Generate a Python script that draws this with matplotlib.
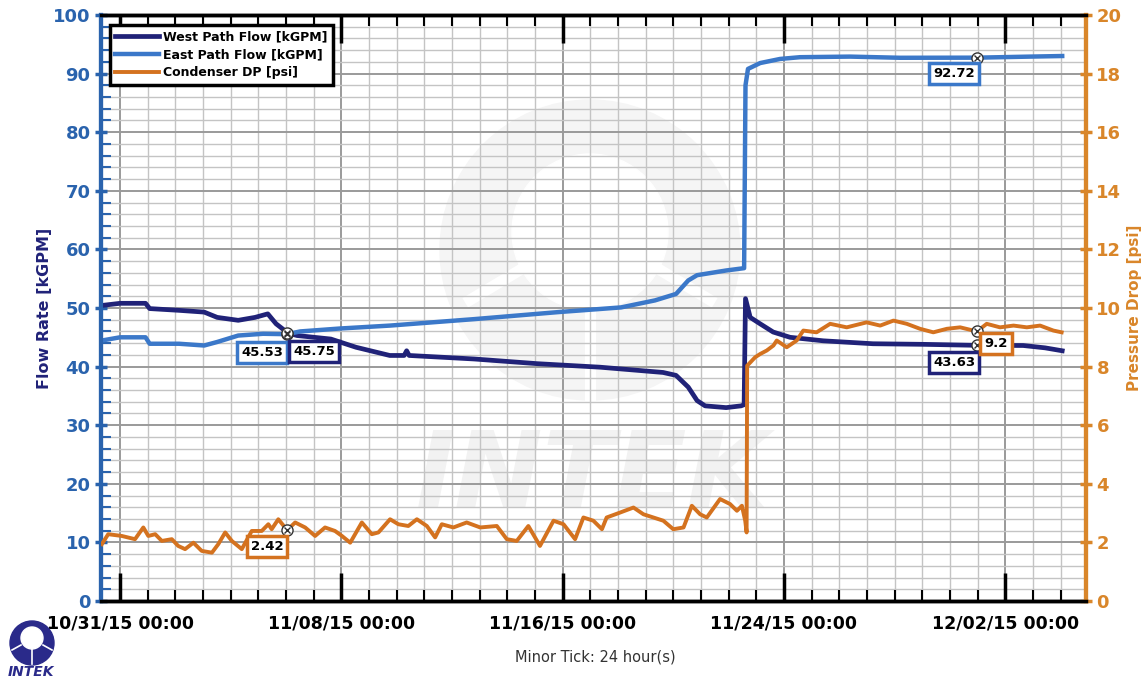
import matplotlib
matplotlib.use("Agg")
import matplotlib.pyplot as plt
import matplotlib.dates as mdates
from matplotlib.patches import Ellipse
from datetime import datetime, timedelta
import numpy as np

# days since 10/31/15 00:00
west_days = [-0.72, 0.0, 0.92, 1.07, 2.13, 3.04, 3.51, 4.27, 4.88, 5.34, 5.64, 5.94, 6.04,
             6.40, 7.62, 8.53, 9.75, 10.27, 10.36, 10.45, 12.80, 15.08, 17.35, 19.63, 20.10,
             20.54, 20.86, 21.15, 21.91, 22.45, 22.56, 22.61, 22.78, 23.14, 23.61, 24.22,
             25.42, 27.22, 29.03, 30.98, 32.65, 33.44, 34.06]
west_flow = [50.4, 50.8, 50.8, 49.9, 49.6, 49.3, 48.4, 47.9, 48.4, 49.0, 47.3, 46.2, 45.75,
             45.3, 44.7, 43.3, 41.9, 41.9, 42.7, 41.9, 41.3, 40.5, 39.9, 39.0, 38.5,
             36.5, 34.2, 33.3, 33.0, 33.3, 33.5, 51.6, 48.4, 47.3, 45.9, 45.0,
             44.4, 43.9, 43.8, 43.63, 43.6, 43.2, 42.7]

east_days = [-0.72, 0.0, 0.92, 1.07, 2.13, 3.04, 3.51, 4.27, 5.17, 6.04, 6.51, 7.95, 9.76,
             12.80, 15.84, 18.11, 19.34, 20.10, 20.54, 20.86, 21.91, 22.56, 22.61, 22.70,
             23.14, 23.86, 24.58, 26.39, 28.20, 30.98, 32.90, 34.06]
east_flow = [44.4, 45.0, 45.0, 43.9, 43.9, 43.6, 44.2, 45.3, 45.6, 45.53, 46.0, 46.5, 47.0,
             48.1, 49.3, 50.1, 51.3, 52.4, 54.7, 55.6, 56.4, 56.8, 88.0, 90.8,
             91.8, 92.5, 92.8, 92.9, 92.7, 92.72, 92.9, 93.0]

dp_days = [-0.66, -0.43, 0.06, 0.54, 0.84, 1.02, 1.27, 1.51, 1.87, 2.10, 2.35, 2.65, 2.95,
           3.32, 3.55, 3.80, 4.04, 4.40, 4.76, 5.12, 5.36, 5.48, 5.72, 6.04, 6.33, 6.69,
           7.05, 7.41, 7.77, 8.02, 8.32, 8.74, 9.10, 9.34, 9.76, 10.06, 10.42, 10.73,
           11.09, 11.39, 11.63, 12.05, 12.53, 13.02, 13.62, 13.98, 14.34, 14.76, 15.18,
           15.67, 16.03, 16.45, 16.75, 17.11, 17.42, 17.59, 18.08, 18.56, 18.92, 19.28,
           19.64, 20.00, 20.37, 20.67, 20.97, 21.21, 21.69, 22.05, 22.30, 22.48, 22.60,
           22.65, 22.67, 22.96, 23.14, 23.38, 23.62, 23.74, 24.10, 24.46, 24.70, 25.18,
           25.67, 26.27, 26.99, 27.48, 27.96, 28.44, 28.92, 29.40, 29.89, 30.37, 30.98,
           31.33, 31.81, 32.30, 32.78, 33.26, 33.74, 34.04]
dp_psi = [1.94, 2.28, 2.22, 2.11, 2.51, 2.22, 2.28, 2.05, 2.11, 1.88, 1.77, 1.99, 1.71,
          1.65, 1.94, 2.34, 2.05, 1.77, 2.39, 2.39, 2.62, 2.45, 2.79, 2.42, 2.68, 2.51,
          2.22, 2.51, 2.39, 2.22, 1.99, 2.68, 2.28, 2.34, 2.79, 2.62, 2.56, 2.79,
          2.56, 2.17, 2.62, 2.51, 2.68, 2.51, 2.56, 2.11, 2.05, 2.56, 1.88,
          2.74, 2.62, 2.11, 2.85, 2.74, 2.45, 2.85, 3.02, 3.19, 2.96, 2.85,
          2.74, 2.45, 2.51, 3.25, 2.96, 2.85, 3.48, 3.31, 3.08, 3.25, 2.74,
          2.34, 8.03, 8.32, 8.43, 8.55, 8.72, 8.89, 8.66, 8.89, 9.23, 9.17,
          9.46, 9.34, 9.51, 9.40, 9.57, 9.46, 9.29, 9.17, 9.29, 9.34, 9.20,
          9.46, 9.34, 9.40, 9.34, 9.40, 9.23, 9.17]

# data tips
tip_series = ["east", "west", "east", "west", "dp", "dp"]
tip_days = [6.04, 6.04, 30.98, 30.98, 30.98, 6.04]
tip_values = [45.53, 45.75, 92.72, 43.63, 9.2, 2.42]
tip_labels = ["45.53", "45.75", "92.72", "43.63", "9.2", "2.42"]
tip_offsets = [(-25, -18), (27, -19), (-23, -16), (-23, -17), (19, -12), (-20, -16)]

tick_days = [0, 8, 16, 24, 32]
tick_labels = ["10/31/15 00:00", "11/08/15 00:00", "11/16/15 00:00",
               "11/24/15 00:00", "12/02/15 00:00"]

base = datetime(2015, 10, 31)
to_dt = lambda d: [base + timedelta(days=v) for v in d]

W, H = 1147, 683
WEST = "#202278"
EAST = "#3b78c9"
DP = "#d4721f"
LBLUE = "#2a63ad"
ORANGE = "#d9862a"
NAVY = "#2a2a8a"

fig = plt.figure(figsize=(W / 100, H / 100), dpi=100)


def circ(cx, cy, r, color, z):
    # circle given in pixels, placed in figure fraction
    fig.patches.append(Ellipse((cx / W, 1 - cy / H), 2 * r / W, 2 * r / H,
                               transform=fig.transFigure, color=color, zorder=z))


def seg(x0, y0, x1, y1, color, lw, z):
    fig.lines.append(plt.Line2D([x0 / W, x1 / W], [1 - y0 / H, 1 - y1 / H],
                                transform=fig.transFigure, color=color, lw=lw, zorder=z))


# watermark
wm = "#f5f5f5"
circ(590, 250, 150, wm, -3)
circ(590, 232, 78, "white", -2)
seg(590, 310, 590, 400, "white", 8, -2)
seg(520, 270, 470, 300, "white", 8, -2)
seg(660, 270, 710, 300, "white", 8, -2)
fig.text(592 / W, 1 - 478 / H, "INTEK", fontsize=76, fontweight="bold", style="italic",
         color="#f2f2f2", ha="center", va="center", zorder=-1)

ax = fig.add_axes([101 / W, 1 - 601 / H, 985 / W, 586 / H])
ax.patch.set_alpha(0)
ax2 = ax.twinx()

l1, = ax.plot(to_dt(west_days), west_flow, color=WEST, lw=3.4, zorder=3,
              label="West Path Flow [kGPM]")
l2, = ax.plot(to_dt(east_days), east_flow, color=EAST, lw=3.2, zorder=3,
              label="East Path Flow [kGPM]")
l3, = ax2.plot(to_dt(dp_days), dp_psi, color=DP, lw=2.8, zorder=3,
               label="Condenser DP [psi]")

ax.set_xlim(base + timedelta(days=-0.69), base + timedelta(days=34.92))
ax.set_ylim(0, 100)
ax2.set_ylim(0, 20)

ax.set_xticks(to_dt(tick_days))
ax.set_xticklabels(tick_labels)
ax.xaxis.set_minor_locator(mdates.DayLocator())
ax.set_yticks(np.arange(0, 101, 10))
ax.set_yticks(np.arange(0, 101, 2), minor=True)
ax2.set_yticks(np.arange(0, 21, 2))

ax.grid(which="major", color="#9a9a9a", lw=1.4, zorder=0)
ax.grid(which="minor", color="#c4c4c4", lw=1.0, zorder=0)
ax.set_axisbelow(True)

# x labels on the lower axes, x tick marks on the twin so they sit above the grid
ax.tick_params(axis="x", which="both", length=0, labelsize=12.5, pad=10)
for t in ax.get_xticklabels():
    t.set_fontweight("bold")
ax2.xaxis.set_visible(True)
ax2.tick_params(axis="x", which="major", direction="in", length=20, width=2.5, color="black",
                bottom=True, top=True, labelbottom=False, labeltop=False)
ax2.tick_params(axis="x", which="minor", direction="in", length=8, width=1.5, color="black",
                bottom=True, top=True, labelbottom=False, labeltop=False)

ax.tick_params(axis="y", which="major", direction="inout", length=9, width=2.5, color=LBLUE,
               labelcolor=LBLUE, labelsize=13, pad=3)
ax.tick_params(axis="y", which="minor", direction="in", length=7, width=1.5, color=LBLUE)
for t in ax.get_yticklabels():
    t.set_fontweight("bold")
ax2.tick_params(axis="y", which="major", direction="inout", length=9, width=2.5, color=ORANGE,
                labelcolor=ORANGE, labelsize=13, pad=3)
for t in ax2.get_yticklabels():
    t.set_fontweight("bold")

for a in (ax, ax2):
    a.spines["top"].set_linewidth(2.5)
    a.spines["bottom"].set_linewidth(2.5)
    a.spines["left"].set_color(LBLUE)
    a.spines["left"].set_linewidth(3)
    a.spines["right"].set_color(ORANGE)
    a.spines["right"].set_linewidth(3)

ax.set_ylabel("Flow Rate [kGPM]", color=WEST, fontsize=11.5, fontweight="bold", labelpad=1)
ax2.set_ylabel("Pressure Drop [psi]", color=ORANGE, fontsize=11, fontweight="bold", labelpad=4)

leg = ax2.legend(handles=[l1, l2, l3], loc="upper left", bbox_to_anchor=(0.009, 0.983),
                 borderaxespad=0, fancybox=False, framealpha=1, edgecolor="black",
                 prop={"weight": "bold", "size": 9}, handlelength=3.5, handletextpad=0.3,
                 labelspacing=0.38, borderpad=0.45)
leg.get_frame().set_linewidth(2.5)
leg.set_zorder(10)

colors = {"west": WEST, "east": EAST, "dp": DP}
for s, d, v, lab, off in zip(tip_series, tip_days, tip_values, tip_labels, tip_offsets):
    a = ax2 if s == "dp" else ax
    x = base + timedelta(days=d)
    a.plot([x], [v], "o", ms=8, mfc="white", mec="#333333", mew=1.0, zorder=6)
    a.plot([x], [v], "x", ms=5, color="#333333", mew=1.0, zorder=7)
    a.annotate(lab, (x, v), xytext=off, textcoords="offset pixels", ha="center", va="center",
               fontsize=9.5, fontweight="bold", color="black", zorder=8,
               bbox=dict(boxstyle="square,pad=0.3", fc="white", ec=colors[s], lw=2.5))

fig.text(595 / W, 1 - 657 / H, "Minor Tick: 24 hour(s)", fontsize=10.5,
         color="#333333", ha="center", va="center")

# logo
circ(32, 643, 22, NAVY, 1)
circ(32, 638, 11, "white", 2)
seg(32, 649, 32, 664, "white", 1.2, 3)
seg(21, 645, 12, 650, "white", 1.2, 3)
seg(43, 645, 52, 650, "white", 1.2, 3)
fig.text(31 / W, 1 - 672 / H, "INTEK", fontsize=10, fontweight="bold", style="italic",
         color=NAVY, ha="center", va="center")

fig.savefig("out.png", dpi=100)
